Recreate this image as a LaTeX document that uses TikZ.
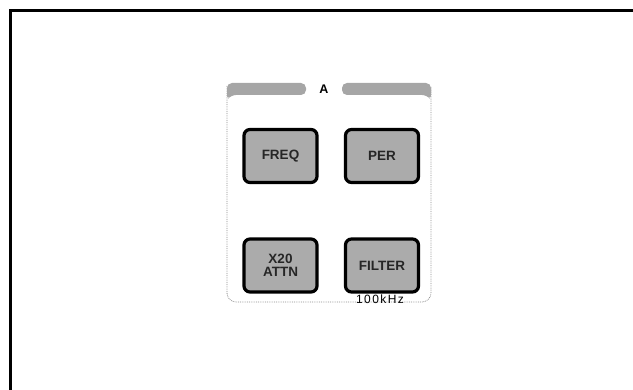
\documentclass[tikz,border=0pt]{standalone}
\usepackage{fontspec}
\setmainfont{Liberation Sans}
\begin{document}
\begin{tikzpicture}[x=1pt,y=-1pt,
  keybox/.style={draw=black, line width=3.2pt, rounded corners=6pt, fill=black!33,
    minimum width=73pt, minimum height=53pt, inner sep=0pt,
    font=\bfseries\fontsize{13.5}{13}\selectfont, text=black!85, align=center},
  band/.style={fill=black!35, draw=none},
  panelline/.style={draw=black!45, densely dotted, line width=0.8pt}]
\useasboundingbox (0,0) rectangle (633,390);
% outer frame
\draw[line width=3pt] (10,390) -- (10,11) -- (633,11);
% panel outline
\draw[panelline, rounded corners=9pt] (227,86) -- (227,302) -- (431,302) -- (431,86);
% top band with label
\fill[band, rounded corners=5pt] (227,100) -- (227,83) -- (306,83) -- (306,95) -- (231,95) -- cycle;
\fill[band, rounded corners=5pt] (342,95) -- (342,83) -- (431,83) -- (431,100) -- (427,95) -- cycle;
\node[font=\bfseries\fontsize{12.5}{12}\selectfont] (lbl) at (324,89) {A};
% keys
\node[keybox] (freq) at (280.5,156) {FREQ};
\node[keybox] (per) at (382,156) {PER};
\node[keybox] (attn) at (280.5,265.5) {X20\\[0pt]ATTN};
\node[keybox] (filter) at (382,265.5) {FILTER};
\node[font=\fontsize{12}{12}\selectfont\addfontfeatures{LetterSpace=12}] (khz) at (380,299.5) {100kHz};
\end{tikzpicture}
\end{document}
